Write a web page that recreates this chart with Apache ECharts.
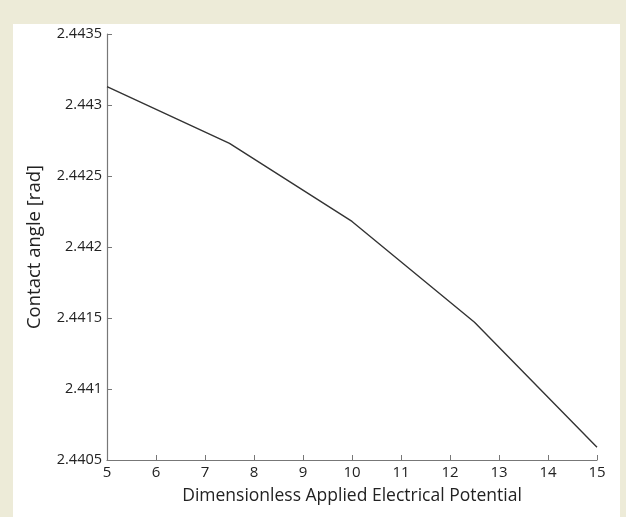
<!DOCTYPE html>
<html><head><meta charset="utf-8">
<script src="https://cdn.jsdelivr.net/npm/echarts@6/dist/echarts.min.js"></script>
<style>
html,body{margin:0;padding:0;width:626px;height:517px;background:#edebd8;overflow:hidden;}
#frame{position:absolute;left:13px;top:24px;width:607px;height:493px;background:#fff;}
#chart{position:absolute;left:0;top:0;width:626px;height:517px;}
</style></head>
<body>
<div id="frame"></div>
<div id="chart"></div>
<script>
const potential = [5, 7.5, 10, 12.5, 15];
const contactAngle = [2.44313, 2.44273, 2.44218, 2.44147, 2.44059];
const xTicks = [5, 6, 7, 8, 9, 10, 11, 12, 13, 14, 15];
const yTicks = [2.4405, 2.441, 2.4415, 2.442, 2.4425, 2.443, 2.4435];

const font = 'Open Sans';
const chart = echarts.init(document.getElementById('chart'), null, {renderer: 'canvas'});
chart.setOption({
  backgroundColor: 'transparent',
  animation: false,
  grid: {left: 107, right: 29, top: 34, bottom: 57},
  xAxis: {
    type: 'value', min: xTicks[0], max: xTicks[xTicks.length - 1], interval: 1,
    name: 'Dimensionless Applied Electrical Potential',
    nameLocation: 'middle', nameGap: 27,
    nameTextStyle: {fontFamily: font, fontSize: 17.5, color: '#222'},
    axisLine: {show: true, lineStyle: {color: '#777', width: 1.2}},
    axisTick: {show: true, inside: true, length: 5, lineStyle: {color: '#777'}},
    axisLabel: {fontFamily: font, fontSize: 15, color: '#222', margin: 5},
    splitLine: {show: false}
  },
  yAxis: {
    type: 'value', min: yTicks[0], max: yTicks[yTicks.length - 1], interval: 0.0005,
    name: 'Contact angle [rad]',
    nameLocation: 'middle', nameGap: 63,
    nameTextStyle: {fontFamily: font, fontSize: 18.5, color: '#222'},
    axisLine: {show: true, lineStyle: {color: '#777', width: 1.2}},
    axisTick: {show: true, inside: true, length: 5, lineStyle: {color: '#777'}},
    axisLabel: {fontFamily: font, fontSize: 14.5, color: '#222', margin: 5,
      formatter: v => String(parseFloat(v.toFixed(4)))},
    splitLine: {show: false}
  },
  series: [{
    type: 'line',
    data: potential.map((x, i) => [x, contactAngle[i]]),
    showSymbol: false,
    lineStyle: {color: '#333', width: 1.4},
    silent: true
  }]
});
</script>
</body></html>
